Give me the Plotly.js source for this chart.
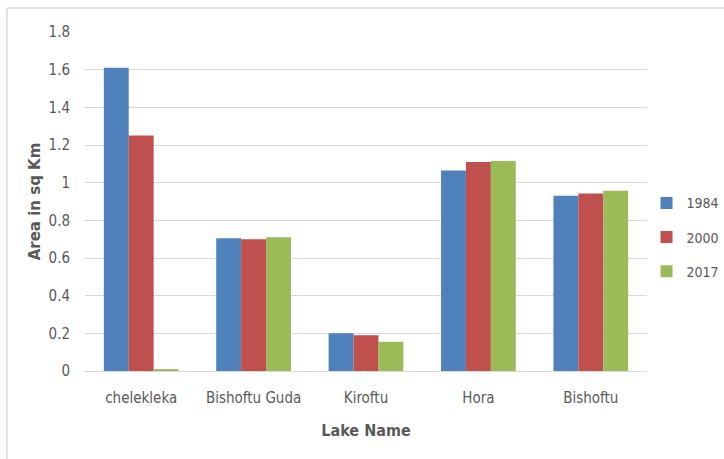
<!DOCTYPE html>
<html>
<head>
<meta charset="utf-8">
<script src="https://cdn.plot.ly/plotly-3.0.1.min.js"></script>
<style>html,body{margin:0;padding:0;background:#fff;}#chart{width:724px;height:459px;}</style>
</head>
<body>
<div id="chart"></div>
<script>
const lakes = ["chelekleka", "Bishoftu Guda", "Kiroftu", "Hora", "Bishoftu"];
const years = ["1984", "2000", "2017"];
const area1984 = [1.61, 0.705, 0.20, 1.065, 0.93];
const area2000 = [1.25, 0.70, 0.19, 1.11, 0.943];
const area2017 = [0.01, 0.71, 0.155, 1.115, 0.957];
const colors = ["#4F81BD", "#C0504D", "#9BBB59"];
const yTicks = [0, 0.2, 0.4, 0.6, 0.8, 1, 1.2, 1.4, 1.6, 1.8];
const yTickText = ["0", "0.2", "0.4", "0.6", "0.8", "1", "1.2", "1.4", "1.6", "1.8"];

const series = [area1984, area2000, area2017];
const FONT = "'Liberation Sans Narrow', 'DejaVu Sans Condensed', 'Open Sans', sans-serif";
const traces = series.map((vals, i) => ({
  type: "bar",
  x: lakes,
  y: vals,
  name: years[i],
  legendgroup: "g" + i,
  marker: {color: colors[i], line: {width: 0}},
  hoverinfo: "x+y+name"
}));

const layout = {
  width: 724,
  height: 459,
  margin: {l: 85, r: 77, t: 32, b: 88, autoexpand: false},
  paper_bgcolor: "#ffffff",
  plot_bgcolor: "#ffffff",
  barmode: "group",
  bargap: 0.335,
  bargroupgap: 0,
  font: {family: FONT, color: "#595959", size: 15},
  xaxis: {
    type: "category",
    showgrid: false,
    showline: true,
    linecolor: "#D9D9D9",
    linewidth: 1,
    ticks: "",
    tickfont: {family: FONT, size: 15, color: "#595959"},
    ticklabelstandoff: 13,
    title: {text: "<b>Lake Name</b>", font: {family: FONT, size: 16, color: "#595959"}, standoff: 18}
  },
  yaxis: {
    range: [0, 1.8],
    tickvals: yTicks,
    ticktext: yTickText,
    showgrid: true,
    gridcolor: "#D9D9D9",
    gridwidth: 1,
    zeroline: false,
    showline: false,
    ticks: "",
    tickfont: {family: FONT, size: 15, color: "#595959"},
    ticklabelstandoff: 14,
    title: {text: "<b>Area in sq Km</b>", font: {family: "'DejaVu Sans', sans-serif", size: 15, color: "#595959"}, standoff: 4}
  },
  legend: {
    xref: "container",
    yref: "container",
    x: 0.893,
    xanchor: "left",
    y: 0.483,
    yanchor: "middle",
    tracegroupgap: 13,
    font: {family: FONT, size: 14, color: "#595959"},
    itemwidth: 30
  },
  showlegend: true,
  shapes: [
    {type: "line", xref: "paper", yref: "paper", x0: -0.139, x1: 1.2, y0: 1.071, y1: 1.071,
     line: {color: "#D9D9D9", width: 1.5}},
    {type: "line", xref: "paper", yref: "paper", x0: -0.139, x1: -0.139, y0: 1.071, y1: -0.3,
     line: {color: "#D9D9D9", width: 1.5}}
  ]
};

Plotly.newPlot("chart", traces, layout, {displayModeBar: false, staticPlot: true});
</script>
</body>
</html>
